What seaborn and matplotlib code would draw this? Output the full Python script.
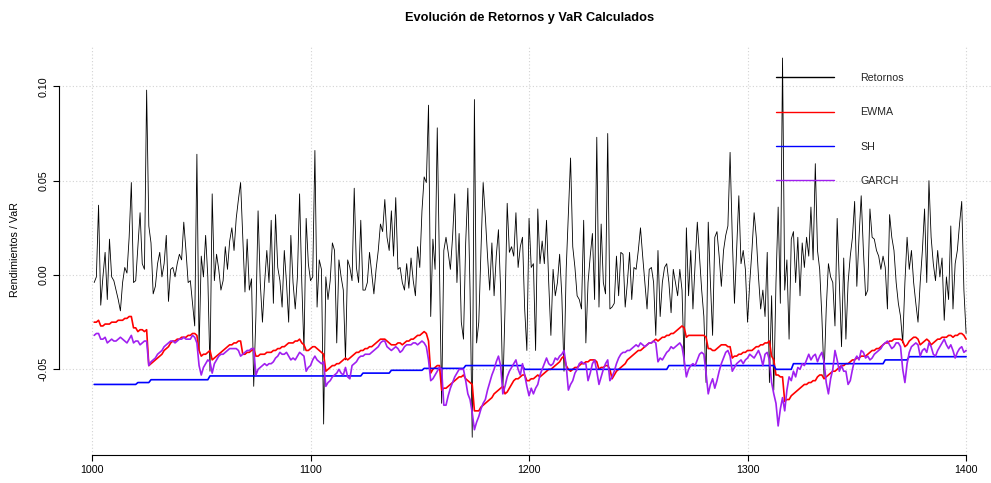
import numpy as np
import pandas as pd
import matplotlib
matplotlib.use("Agg")
import matplotlib.pyplot as plt
import seaborn as sns

# ---------------- data ----------------
x_first = 1001

retornos = [
    -0.004, -0.001, 0.037, -0.016, -0.001, 0.012, -0.013, 0.019, -0.001, -0.003,
    -0.008, -0.013, -0.019, -0.004, 0.004, 0.001, 0.020, 0.049, -0.004, -0.003,
    0.015, 0.033, 0.006, 0.003, 0.098, 0.026, 0.017, -0.010, -0.006, 0.006,
    0.012, -0.001, 0.006, 0.021, -0.014, 0.003, 0.004, -0.001, 0.006, 0.011,
    0.008, 0.028, 0.013, -0.004, -0.003, -0.015, -0.027, 0.064, -0.040, 0.010,
    -0.001, 0.021, -0.001, -0.051, 0.043, -0.003, 0.011, 0.003, -0.008, -0.003,
    0.015, 0.003, 0.018, 0.025, 0.013, 0.030, 0.040, 0.049, 0.020, -0.009,
    0.019, -0.008, -0.002, -0.059, -0.022, 0.034, -0.004, -0.025, -0.004, 0.013,
    -0.004, 0.029, -0.015, 0.032, 0.004, -0.003, -0.017, 0.013, -0.004, -0.025,
    0.021, -0.004, -0.018, -0.001, 0.043, -0.004, -0.040, 0.030, 0.006, -0.003,
    -0.001, 0.066, -0.017, 0.008, 0.003, -0.079, -0.001, -0.013, -0.003, 0.017,
    0.013, -0.036, 0.008, -0.001, -0.008, -0.045, 0.008, 0.004, -0.003, 0.046,
    0.004, -0.004, 0.029, -0.008, -0.008, -0.004, 0.012, 0.001, -0.010, 0.003,
    0.013, 0.027, 0.023, 0.040, 0.020, 0.013, 0.034, 0.010, 0.041, 0.003,
    0.004, -0.004, -0.008, 0.006, -0.007, 0.009, -0.003, -0.011, 0.015, 0.004,
    0.034, 0.052, 0.049, 0.090, -0.022, 0.019, 0.003, 0.078, 0.006, -0.068,
    0.013, 0.020, 0.012, 0.003, 0.020, 0.043, -0.004, 0.022, -0.025, -0.034,
    0.017, 0.046, -0.008, -0.086, 0.093, -0.036, -0.025, 0.013, 0.049, 0.031,
    0.010, -0.008, 0.017, -0.011, 0.010, 0.024, -0.008, -0.062, -0.018, 0.038,
    0.012, 0.015, 0.010, 0.033, 0.004, 0.015, 0.020, -0.018, -0.040, 0.030,
    0.004, 0.006, -0.040, 0.035, 0.006, 0.018, 0.006, 0.029, -0.004, -0.032,
    0.003, -0.011, -0.004, 0.011, -0.011, -0.051, 0.003, 0.033, 0.062, 0.015,
    0.004, -0.011, -0.013, -0.018, 0.029, -0.036, -0.004, 0.010, 0.022, -0.013,
    0.073, -0.017, 0.027, -0.004, -0.010, 0.075, -0.018, -0.017, -0.015, 0.010,
    -0.011, 0.012, 0.011, -0.017, -0.004, 0.012, -0.013, 0.004, 0.003, 0.013,
    0.025, 0.010, -0.004, -0.018, 0.003, 0.004, -0.004, -0.032, 0.013, -0.022,
    -0.004, 0.004, 0.006, -0.004, -0.020, 0.003, -0.004, -0.011, 0.003, -0.008,
    -0.048, 0.025, -0.011, 0.013, -0.018, 0.006, 0.028, 0.010, -0.008, -0.022,
    -0.057, 0.028, -0.004, -0.032, 0.020, 0.023, 0.010, -0.006, 0.013, 0.021,
    0.026, 0.065, 0.020, -0.015, 0.013, 0.042, 0.006, 0.013, 0.003, -0.025,
    -0.004, 0.013, 0.033, 0.020, -0.001, -0.018, -0.008, -0.022, 0.012, -0.057,
    -0.011, -0.061, -0.004, 0.036, -0.015, 0.115, -0.008, 0.008, -0.034, 0.019,
    0.023, -0.004, 0.020, -0.011, 0.017, 0.004, 0.020, 0.010, 0.036, 0.008,
    0.059, 0.013, 0.003, -0.022, -0.054, -0.018, 0.006, -0.001, -0.004, -0.027,
    0.030, -0.004, -0.038, 0.009, -0.034, -0.004, 0.010, 0.020, 0.039, -0.006,
    0.020, 0.042, 0.013, -0.011, -0.008, 0.035, 0.020, 0.019, 0.013, 0.010,
    0.003, 0.010, 0.004, -0.018, 0.032, 0.020, 0.013, -0.004, -0.015, -0.022,
    -0.036, -0.004, 0.020, 0.003, 0.013, -0.004, -0.015, -0.025, -0.004, 0.013,
    0.035, -0.004, 0.050, 0.020, 0.006, -0.003, 0.013, -0.001, 0.009, -0.024,
    -0.001, -0.013, 0.026, -0.018, 0.006, 0.013, 0.027, 0.039, -0.008, -0.031,
]

ewma = [
    -0.025, -0.025, -0.024, -0.027, -0.027, -0.026, -0.026, -0.026, -0.025, -0.025,
    -0.025, -0.024, -0.024, -0.024, -0.023, -0.023, -0.022, -0.022, -0.028, -0.028,
    -0.030, -0.029, -0.029, -0.030, -0.029, -0.048, -0.047, -0.046, -0.045, -0.044,
    -0.043, -0.042, -0.040, -0.039, -0.038, -0.036, -0.035, -0.035, -0.034, -0.034,
    -0.033, -0.033, -0.033, -0.032, -0.032, -0.031, -0.031, -0.032, -0.040, -0.043,
    -0.042, -0.042, -0.041, -0.040, -0.045, -0.044, -0.043, -0.042, -0.041, -0.040,
    -0.039, -0.038, -0.037, -0.037, -0.036, -0.036, -0.035, -0.035, -0.042, -0.042,
    -0.041, -0.041, -0.040, -0.039, -0.043, -0.043, -0.042, -0.042, -0.042, -0.041,
    -0.041, -0.041, -0.040, -0.040, -0.039, -0.039, -0.038, -0.038, -0.037, -0.036,
    -0.036, -0.036, -0.035, -0.035, -0.034, -0.036, -0.037, -0.040, -0.040, -0.039,
    -0.038, -0.038, -0.039, -0.040, -0.041, -0.042, -0.051, -0.050, -0.049, -0.048,
    -0.048, -0.047, -0.047, -0.046, -0.045, -0.044, -0.045, -0.044, -0.043, -0.042,
    -0.041, -0.041, -0.040, -0.040, -0.039, -0.039, -0.038, -0.038, -0.037, -0.036,
    -0.035, -0.034, -0.034, -0.034, -0.035, -0.036, -0.037, -0.037, -0.037, -0.036,
    -0.036, -0.037, -0.036, -0.035, -0.035, -0.034, -0.034, -0.033, -0.032, -0.032,
    -0.031, -0.030, -0.031, -0.035, -0.052, -0.050, -0.049, -0.048, -0.048, -0.061,
    -0.060, -0.060, -0.059, -0.058, -0.057, -0.056, -0.055, -0.054, -0.054, -0.053,
    -0.055, -0.056, -0.057, -0.058, -0.072, -0.072, -0.072, -0.070, -0.069, -0.068,
    -0.067, -0.066, -0.065, -0.063, -0.062, -0.061, -0.060, -0.059, -0.063, -0.062,
    -0.060, -0.058, -0.056, -0.055, -0.055, -0.054, -0.053, -0.053, -0.056, -0.056,
    -0.055, -0.055, -0.054, -0.053, -0.054, -0.053, -0.052, -0.051, -0.050, -0.050,
    -0.049, -0.048, -0.047, -0.046, -0.044, -0.043, -0.048, -0.050, -0.051, -0.050,
    -0.049, -0.049, -0.048, -0.047, -0.047, -0.046, -0.046, -0.045, -0.045, -0.045,
    -0.046, -0.050, -0.049, -0.049, -0.048, -0.048, -0.050, -0.055, -0.053, -0.051,
    -0.050, -0.049, -0.048, -0.047, -0.045, -0.044, -0.043, -0.042, -0.041, -0.040,
    -0.040, -0.039, -0.038, -0.037, -0.036, -0.036, -0.035, -0.034, -0.035, -0.034,
    -0.033, -0.033, -0.032, -0.032, -0.031, -0.031, -0.030, -0.029, -0.028, -0.027,
    -0.028, -0.033, -0.032, -0.032, -0.032, -0.032, -0.032, -0.032, -0.032, -0.032,
    -0.033, -0.039, -0.039, -0.040, -0.040, -0.039, -0.038, -0.037, -0.037, -0.037,
    -0.038, -0.038, -0.044, -0.043, -0.043, -0.042, -0.042, -0.041, -0.041, -0.040,
    -0.040, -0.040, -0.039, -0.038, -0.038, -0.037, -0.037, -0.036, -0.036, -0.035,
    -0.043, -0.045, -0.053, -0.053, -0.054, -0.054, -0.067, -0.066, -0.066, -0.064,
    -0.063, -0.062, -0.061, -0.060, -0.059, -0.058, -0.058, -0.057, -0.057, -0.056,
    -0.056, -0.054, -0.053, -0.053, -0.055, -0.054, -0.053, -0.052, -0.051, -0.051,
    -0.050, -0.049, -0.048, -0.048, -0.047, -0.047, -0.046, -0.045, -0.045, -0.044,
    -0.044, -0.043, -0.043, -0.043, -0.042, -0.041, -0.040, -0.040, -0.039, -0.039,
    -0.038, -0.037, -0.036, -0.036, -0.035, -0.035, -0.034, -0.034, -0.034, -0.034,
    -0.035, -0.038, -0.037, -0.035, -0.034, -0.033, -0.033, -0.034, -0.037, -0.036,
    -0.035, -0.034, -0.035, -0.037, -0.036, -0.035, -0.034, -0.034, -0.033, -0.033,
    -0.033, -0.032, -0.032, -0.033, -0.032, -0.032, -0.031, -0.031, -0.032, -0.034,
]

garch = [
    -0.032, -0.031, -0.031, -0.034, -0.034, -0.033, -0.036, -0.035, -0.034, -0.035,
    -0.035, -0.034, -0.033, -0.034, -0.035, -0.036, -0.034, -0.032, -0.036, -0.035,
    -0.035, -0.037, -0.036, -0.035, -0.035, -0.048, -0.046, -0.045, -0.044, -0.042,
    -0.041, -0.040, -0.038, -0.037, -0.036, -0.035, -0.035, -0.036, -0.035, -0.034,
    -0.034, -0.033, -0.034, -0.034, -0.034, -0.032, -0.033, -0.036, -0.048, -0.053,
    -0.049, -0.047, -0.045, -0.046, -0.052, -0.047, -0.045, -0.043, -0.042, -0.042,
    -0.041, -0.040, -0.039, -0.039, -0.039, -0.039, -0.040, -0.043, -0.042, -0.041,
    -0.040, -0.040, -0.039, -0.039, -0.053, -0.050, -0.049, -0.048, -0.047, -0.048,
    -0.047, -0.047, -0.046, -0.044, -0.043, -0.041, -0.042, -0.042, -0.041, -0.043,
    -0.045, -0.044, -0.045, -0.043, -0.041, -0.042, -0.043, -0.051, -0.049, -0.048,
    -0.045, -0.043, -0.045, -0.046, -0.047, -0.046, -0.059, -0.057, -0.056, -0.054,
    -0.053, -0.052, -0.050, -0.052, -0.053, -0.049, -0.054, -0.055, -0.048, -0.047,
    -0.046, -0.044, -0.043, -0.043, -0.042, -0.042, -0.042, -0.041, -0.040, -0.039,
    -0.038, -0.036, -0.035, -0.035, -0.038, -0.039, -0.040, -0.039, -0.038, -0.039,
    -0.041, -0.040, -0.038, -0.037, -0.037, -0.037, -0.036, -0.036, -0.037, -0.036,
    -0.035, -0.036, -0.038, -0.045, -0.056, -0.055, -0.053, -0.051, -0.049, -0.050,
    -0.069, -0.069, -0.064, -0.060, -0.057, -0.054, -0.052, -0.050, -0.050, -0.050,
    -0.056, -0.063, -0.066, -0.073, -0.082, -0.078, -0.075, -0.071, -0.068, -0.066,
    -0.061, -0.057, -0.053, -0.050, -0.046, -0.043, -0.048, -0.063, -0.059, -0.054,
    -0.051, -0.049, -0.047, -0.045, -0.050, -0.053, -0.047, -0.053, -0.059, -0.064,
    -0.060, -0.063, -0.060, -0.058, -0.053, -0.050, -0.047, -0.044, -0.047, -0.048,
    -0.047, -0.044, -0.045, -0.043, -0.042, -0.040, -0.048, -0.061, -0.058, -0.056,
    -0.052, -0.050, -0.047, -0.046, -0.047, -0.047, -0.056, -0.052, -0.047, -0.045,
    -0.051, -0.058, -0.054, -0.050, -0.047, -0.045, -0.056, -0.054, -0.051, -0.047,
    -0.044, -0.042, -0.041, -0.041, -0.040, -0.040, -0.039, -0.038, -0.037, -0.038,
    -0.036, -0.037, -0.038, -0.037, -0.036, -0.036, -0.035, -0.036, -0.046, -0.044,
    -0.045, -0.043, -0.041, -0.040, -0.038, -0.039, -0.038, -0.037, -0.036, -0.038,
    -0.045, -0.054, -0.050, -0.048, -0.047, -0.048, -0.045, -0.042, -0.041, -0.042,
    -0.052, -0.063, -0.058, -0.055, -0.060, -0.056, -0.051, -0.047, -0.044, -0.041,
    -0.040, -0.043, -0.051, -0.049, -0.047, -0.046, -0.045, -0.047, -0.045, -0.044,
    -0.042, -0.043, -0.044, -0.042, -0.040, -0.043, -0.048, -0.042, -0.041, -0.045,
    -0.057, -0.063, -0.068, -0.080, -0.071, -0.065, -0.072, -0.061, -0.054, -0.056,
    -0.051, -0.054, -0.049, -0.050, -0.047, -0.048, -0.045, -0.042, -0.045, -0.043,
    -0.042, -0.046, -0.043, -0.041, -0.046, -0.057, -0.063, -0.055, -0.050, -0.040,
    -0.045, -0.051, -0.048, -0.051, -0.051, -0.058, -0.056, -0.050, -0.045, -0.043,
    -0.045, -0.040, -0.041, -0.044, -0.043, -0.045, -0.044, -0.042, -0.041, -0.040,
    -0.039, -0.037, -0.036, -0.035, -0.037, -0.039, -0.038, -0.036, -0.036, -0.038,
    -0.050, -0.057, -0.047, -0.041, -0.038, -0.037, -0.036, -0.037, -0.043, -0.040,
    -0.039, -0.041, -0.036, -0.038, -0.042, -0.043, -0.040, -0.038, -0.036, -0.034,
    -0.037, -0.039, -0.037, -0.040, -0.044, -0.041, -0.039, -0.038, -0.041, -0.040,
]

# Historical-simulation VaR is a step series: levels and how many days each lasts
sh_levels = [-0.058, -0.057, -0.0555, -0.0535, -0.052, -0.0505, -0.0495,
             -0.048, -0.050, -0.048, -0.050, -0.047, -0.045, -0.0433]
sh_lengths = [20, 6, 27, 70, 13, 15, 19, 27, 66, 49, 8, 42, 11, 27]

x_ticks = [1000, 1100, 1200, 1300, 1400]
y_ticks = [-0.05, 0.00, 0.05, 0.10]
y_tick_labels = ["-0.05", "0.00", "0.05", "0.10"]

series_names = ["Retornos", "EWMA", "SH", "GARCH"]
series_colors = ["black", "#FF0000", "#0000FF", "#A020F0"]
series_widths = [0.6, 1.2, 1.2, 1.2]

title = "Evolución de Retornos y VaR Calculados"
y_label = "Rendimientos / VaR"

# ---------------- build table ----------------
n = len(retornos)
sh = np.repeat(sh_levels, sh_lengths)
df = pd.DataFrame({
    "x": np.arange(x_first, x_first + n),
    "Retornos": retornos,
    "EWMA": ewma,
    "SH": sh,
    "GARCH": garch,
})

# ---------------- plot ----------------
sns.set_theme(style="white")
plt.rcParams["font.family"] = ["Liberation Sans", "DejaVu Sans"]

W, H = 991, 483
fig = plt.figure(figsize=(W / 100, H / 100), dpi=100)
ax = fig.add_axes([59 / W, 28 / H, (W - 59) / W, 410 / H])

for name, col, lw in zip(series_names, series_colors, series_widths):
    sns.lineplot(data=df, x="x", y=name, color=col, linewidth=lw,
                 label=name, ax=ax, estimator=None, sort=False)

ax.set_xlim(984.9, 1411.4)
ax.set_ylim(-0.0954, 0.1219)

ax.set_xticks(x_ticks)
ax.set_xticklabels([str(t) for t in x_ticks])
ax.set_yticks(y_ticks)
ax.set_yticklabels(y_tick_labels, rotation=90, va="center")

ax.grid(True, color="#d3d3d3", linestyle=(0, (1, 2)), linewidth=0.8)
ax.set_axisbelow(True)

for s in ["top", "right"]:
    ax.spines[s].set_visible(False)
for s in ["bottom", "left"]:
    ax.spines[s].set_color("black")
    ax.spines[s].set_linewidth(0.8)
ax.spines["bottom"].set_bounds(1000, 1400)
ax.spines["left"].set_bounds(-0.05, 0.10)

ax.tick_params(axis="both", which="both", bottom=True, left=True,
               direction="out", length=4.5, width=0.8, color="black",
               labelsize=7.7, labelcolor="black")
ax.tick_params(axis="x", pad=2.5)
ax.tick_params(axis="y", pad=3)
ax.set_xlabel("")
ax.set_ylabel("")

fig.text(529.5 / W, 1 - 18 / H, title, ha="center", va="center",
         fontsize=9.2, fontweight="bold", color="black")
fig.text(15 / W, 1 - 250 / H, y_label, rotation=90, ha="center",
         va="center", fontsize=7.7, color="black")

leg = ax.legend(loc="upper left", bbox_to_anchor=(776 / W, 1 - 73 / H),
                bbox_transform=fig.transFigure, frameon=False, fontsize=7.7,
                handlelength=5.4, handletextpad=2.5, labelspacing=2.28,
                borderpad=0, borderaxespad=0)
for line in leg.get_lines():
    line.set_linewidth(1.0)

fig.savefig("out.png", dpi=100)
